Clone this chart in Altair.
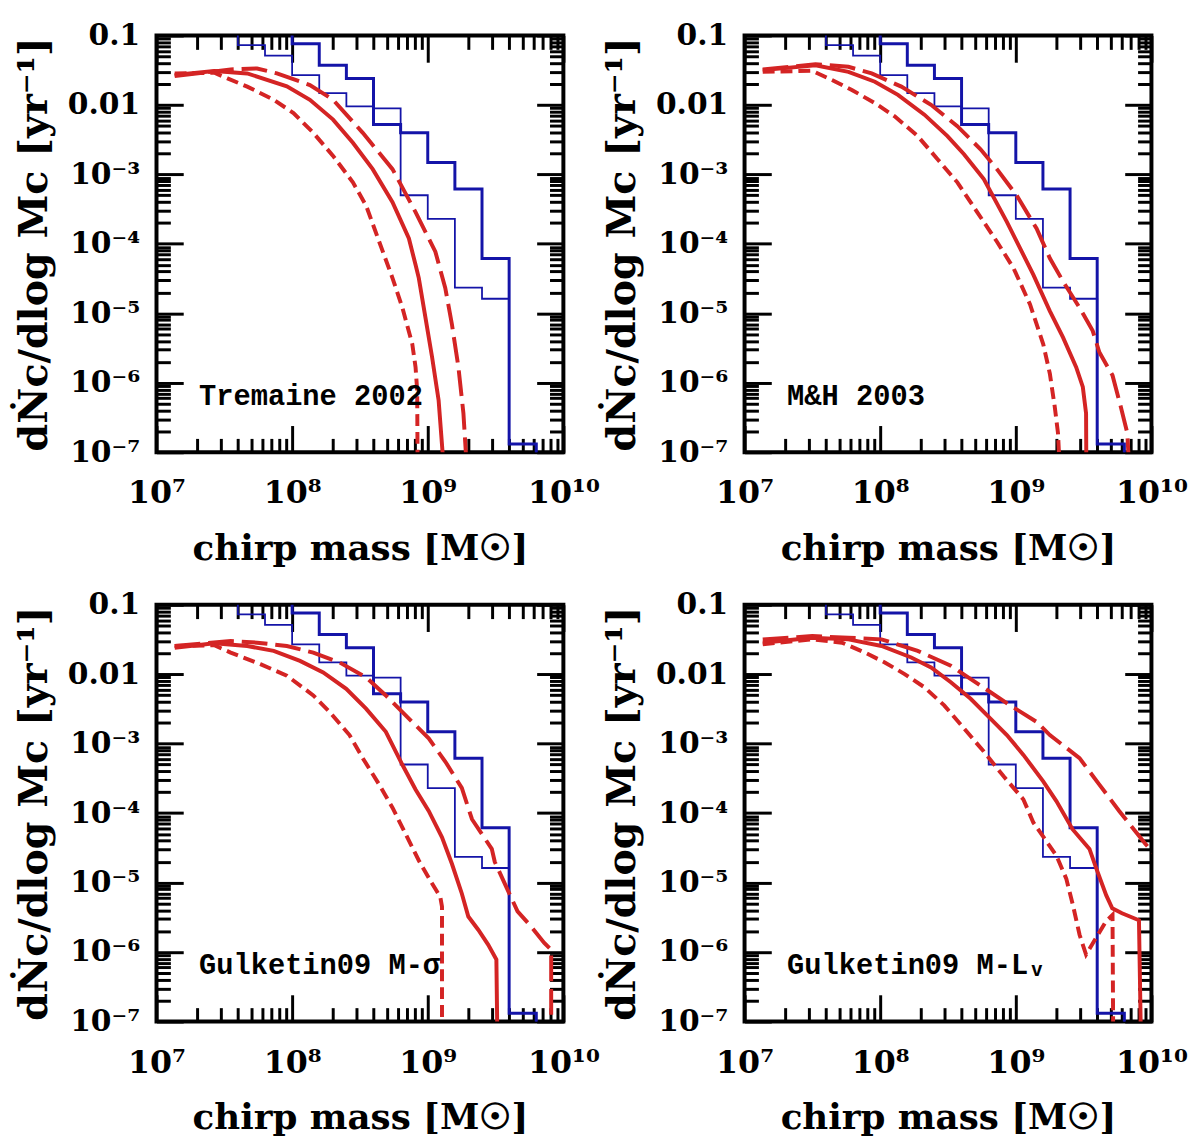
import altair as alt
import pandas as pd

# ---------------- data (log10 values) ----------------
# shared observational histograms (left bin edges, log10 chirp mass)
HIST_LOGM = [7.4, 7.6, 7.8, 8.0, 8.2, 8.4, 8.6, 8.8, 9.0, 9.2, 9.4, 9.6, 9.8]
HIST_OUTER_LOGN = [-0.5, -0.5, -0.5, -1.12, -1.43, -1.62, -2.28, -2.40, -2.83, -3.21, -4.21, -6.88, -7.5]
HIST_INNER_LOGN = [-0.5, -1.14, -1.29, -1.57, -1.83, -2.02, -2.05, -3.30, -3.64, -4.63, -4.79, -6.88, -7.5]

# Tremaine 2002
T02_SOLID_X = [7.134, 7.426, 7.669, 7.961, 8.131, 8.302, 8.448, 8.594, 8.740, 8.861, 8.910, 8.934, 8.983, 9.032, 9.080, 9.117]
T02_SOLID_Y = [-1.570, -1.510, -1.546, -1.731, -1.926, -2.211, -2.544, -2.924, -3.399, -3.922, -4.302, -4.492, -5.062, -5.632, -6.249, -7.2]
T02_SHORT_X = [7.134, 7.426, 7.523, 7.669, 7.864, 8.010, 8.156, 8.302, 8.448, 8.545, 8.642, 8.740, 8.813, 8.886, 8.910, 8.922, 8.925]
T02_SHORT_Y = [-1.546, -1.537, -1.618, -1.736, -1.926, -2.116, -2.401, -2.734, -3.114, -3.447, -3.969, -4.492, -4.919, -5.442, -5.774, -6.107, -7.2]
T02_LONG_X = [7.134, 7.547, 7.742, 7.888, 8.131, 8.302, 8.521, 8.740, 8.910, 9.056, 9.129, 9.178, 9.226, 9.263, 9.287]
T02_LONG_Y = [-1.584, -1.489, -1.475, -1.546, -1.713, -1.926, -2.401, -2.924, -3.542, -4.112, -4.634, -5.157, -5.774, -6.439, -7.2]

# M&H 2003
MH03_SOLID_X = [7.134, 7.523, 7.766, 7.961, 8.131, 8.326, 8.496, 8.618, 8.764, 8.934, 9.056, 9.129, 9.251, 9.348, 9.445, 9.494, 9.518, 9.520]
MH03_SOLID_Y = [-1.499, -1.428, -1.523, -1.665, -1.855, -2.140, -2.449, -2.710, -3.067, -3.684, -4.159, -4.444, -4.967, -5.347, -5.774, -6.060, -6.439, -7.2]
MH03_SHORT_X = [7.134, 7.499, 7.645, 7.791, 7.961, 8.107, 8.277, 8.423, 8.569, 8.715, 8.861, 8.983, 9.105, 9.202, 9.251, 9.287, 9.311, 9.323]
MH03_SHORT_Y = [-1.523, -1.508, -1.641, -1.784, -1.974, -2.164, -2.449, -2.781, -3.114, -3.542, -3.969, -4.349, -4.872, -5.442, -5.869, -6.344, -6.724, -7.2]
MH03_LONG_X = [7.134, 7.523, 7.766, 7.937, 8.156, 8.375, 8.569, 8.740, 8.861, 9.007, 9.153, 9.251, 9.348, 9.470, 9.567, 9.616, 9.713, 9.774, 9.822, 9.835]
MH03_LONG_Y = [-1.489, -1.413, -1.451, -1.546, -1.736, -1.998, -2.306, -2.639, -2.924, -3.304, -3.779, -4.207, -4.539, -4.919, -5.252, -5.561, -5.893, -6.344, -6.724, -7.2]

# Gulketin09 M-sigma
GS_SOLID_X = [7.134, 7.426, 7.669, 7.864, 8.058, 8.229, 8.399, 8.545, 8.691, 8.813, 8.910, 9.007, 9.105, 9.178, 9.251, 9.299, 9.372, 9.445, 9.506, 9.513]
GS_SOLID_Y = [-1.618, -1.556, -1.594, -1.665, -1.808, -1.974, -2.211, -2.496, -2.829, -3.304, -3.660, -3.969, -4.349, -4.729, -5.157, -5.489, -5.679, -5.893, -6.107, -7.2]
GS_SHORT_X = [7.134, 7.426, 7.547, 7.766, 7.961, 8.156, 8.277, 8.423, 8.521, 8.642, 8.740, 8.837, 8.934, 9.032, 9.092, 9.105, 9.105]
GS_SHORT_Y = [-1.594, -1.584, -1.689, -1.855, -2.021, -2.306, -2.544, -2.876, -3.209, -3.589, -3.922, -4.302, -4.682, -5.014, -5.204, -5.347, -7.2]
GS_LONG_X = [7.134, 7.547, 7.742, 7.961, 8.156, 8.350, 8.545, 8.691, 8.861, 9.007, 9.129, 9.251, 9.326, 9.472, 9.494, 9.618, 9.662, 9.762, 9.859, 9.910, 9.910]
GS_LONG_Y = [-1.594, -1.523, -1.546, -1.594, -1.689, -1.831, -2.045, -2.306, -2.639, -2.924, -3.257, -3.637, -4.088, -4.515, -4.701, -5.228, -5.413, -5.632, -5.869, -5.969, -7.2]

# Gulketin09 M-Lv
GL_SOLID_X = [7.134, 7.499, 7.766, 8.010, 8.229, 8.375, 8.521, 8.667, 8.813, 8.934, 9.056, 9.202, 9.299, 9.418, 9.543, 9.594, 9.667, 9.711, 9.783, 9.908, 9.922]
GL_SOLID_Y = [-1.546, -1.475, -1.499, -1.594, -1.760, -1.903, -2.116, -2.354, -2.639, -2.876, -3.162, -3.542, -3.827, -4.231, -4.515, -4.800, -5.185, -5.371, -5.442, -5.542, -7.2]
GL_SHORT_X = [7.134, 7.499, 7.718, 7.888, 8.034, 8.180, 8.326, 8.472, 8.618, 8.764, 8.910, 9.056, 9.129, 9.299, 9.372, 9.421, 9.470, 9.518, 9.591, 9.664, 9.713, 9.718]
GL_SHORT_Y = [-1.570, -1.499, -1.546, -1.689, -1.831, -1.998, -2.188, -2.449, -2.781, -3.114, -3.470, -3.803, -4.135, -4.610, -4.943, -5.323, -5.751, -6.036, -5.798, -5.561, -5.466, -7.2]
GL_LONG_X = [7.134, 7.499, 7.766, 8.010, 8.277, 8.521, 8.740, 8.959, 9.153, 9.251, 9.470, 9.616, 9.762, 9.956, 10.05]
GL_LONG_Y = [-1.499, -1.451, -1.475, -1.499, -1.665, -1.879, -2.164, -2.449, -2.686, -2.876, -3.209, -3.589, -3.969, -4.444, -4.65]

PANEL_LABELS = ["Tremaine 2002", "M&H 2003", "Gulketin09 M-σ", "Gulketin09 M-Lᵥ"]

X_MAJOR = [1e7, 1e8, 1e9, 1e10]
Y_MAJOR = [1e-7, 1e-6, 1e-5, 1e-4, 1e-3, 1e-2, 1e-1]
X_TICKS = [k * 10.0 ** d for d in (7, 8, 9) for k in range(1, 10)] + [1e10]
Y_TICKS = [k * 10.0 ** d for d in range(-7, -1) for k in range(1, 10)] + [0.1]

# ---------------- styling ----------------
W, H = 411, 421
RED = "#d42424"
BLUE = "#1414a8"
SERIF = "DejaVu Serif"

XS = alt.Scale(type="log", domain=[1e7, 1e10], nice=False)
YS = alt.Scale(type="log", domain=[1e-7, 0.1], nice=False)

X_EXPR = ("datum.value < 3e7 ? '10⁷' : datum.value < 3e8 ? '10⁸' : "
          "datum.value < 3e9 ? '10⁹' : '10¹⁰'")
Y_EXPR = ("datum.value > 0.05 ? '0.1' : datum.value > 0.005 ? '0.01' : "
          "datum.value > 5e-4 ? '10⁻³' : datum.value > 5e-5 ? '10⁻⁴' : "
          "datum.value > 5e-6 ? '10⁻⁵' : datum.value > 5e-7 ? '10⁻⁶' : '10⁻⁷'")
MAJOR_TEST = "abs(log(datum.value)/LN10 - round(log(datum.value)/LN10)) < 0.01"
TICK_SIZE = {"condition": {"test": MAJOR_TEST, "value": 27}, "value": 14}

X_LABEL_AXIS = alt.Axis(orient="bottom", values=X_MAJOR, labelExpr=X_EXPR, ticks=False, domain=False,
                        grid=False, labelFlush=False, labelOverlap=False, labelFont=SERIF,
                        labelFontSize=32, labelFontWeight="bold", labelColor="black", labelPadding=26,
                        title="chirp mass [M☉]", titleFont=SERIF, titleFontSize=36,
                        titleFontWeight="bold", titleColor="black", titlePadding=23)
Y_LABEL_AXIS = alt.Axis(orient="left", values=Y_MAJOR, labelExpr=Y_EXPR, ticks=False, domain=False,
                        grid=False, labelFlush=False, labelOverlap=False, labelFont=SERIF,
                        labelFontSize=30, labelFontWeight="bold", labelColor="black", labelPadding=17,
                        labelBaseline="middle",
                        title="dṄc/dlog Mc [yr⁻¹]", titleFont=SERIF, titleFontSize=40,
                        titleFontWeight="bold", titleColor="black", titlePadding=13)


def tick_axis(orient, offset, values):
    return alt.Axis(orient=orient, offset=offset, values=values, labels=False, domain=False,
                    grid=False, title=None, ticks=True, tickColor="black", tickWidth=3,
                    tickSize=TICK_SIZE)


def curve_df(xs, ys):
    return pd.DataFrame({"m": [10.0 ** v for v in xs], "n": [10.0 ** v for v in ys],
                         "i": list(range(len(xs)))})


HIST_OUTER_DF = curve_df(HIST_LOGM, HIST_OUTER_LOGN)
HIST_INNER_DF = curve_df(HIST_LOGM, HIST_INNER_LOGN)


def panel(solid, short, long_, label):
    outer = alt.Chart(HIST_OUTER_DF).mark_line(
        interpolate="step-after", color=BLUE, strokeWidth=3, clip=True
    ).encode(
        x=alt.X("m:Q", scale=XS, axis=X_LABEL_AXIS),
        y=alt.Y("n:Q", scale=YS, axis=Y_LABEL_AXIS),
        order="i:Q",
    )
    inner = alt.Chart(HIST_INNER_DF).mark_line(
        interpolate="step-after", color=BLUE, strokeWidth=1.8, clip=True
    ).encode(
        x=alt.X("m:Q", scale=XS, axis=tick_axis("top", -H, X_TICKS)),
        y=alt.Y("n:Q", scale=YS, axis=tick_axis("right", -W, Y_TICKS)),
        order="i:Q",
    )
    sh = alt.Chart(curve_df(*short)).mark_line(
        color=RED, strokeWidth=4, strokeDash=[12, 6], clip=True
    ).encode(
        x=alt.X("m:Q", scale=XS, axis=tick_axis("bottom", -H, X_TICKS)),
        y=alt.Y("n:Q", scale=YS, axis=tick_axis("left", -W, Y_TICKS)),
        order="i:Q",
    )
    so = alt.Chart(curve_df(*solid)).mark_line(
        color=RED, strokeWidth=4, clip=True
    ).encode(
        x=alt.X("m:Q", scale=XS, axis=None),
        y=alt.Y("n:Q", scale=YS, axis=None),
        order="i:Q",
    )
    lo = alt.Chart(curve_df(*long_)).mark_line(
        color=RED, strokeWidth=4, strokeDash=[26, 8], clip=True
    ).encode(
        x=alt.X("m:Q", scale=XS, axis=None),
        y=alt.Y("n:Q", scale=YS, axis=None),
        order="i:Q",
    )
    txt = alt.Chart(pd.DataFrame({"t": [label]})).mark_text(
        align="left", baseline="middle", font="Liberation Mono", fontWeight="bold",
        fontSize=29, color="black"
    ).encode(text="t:N", x=alt.value(43), y=alt.value(364))
    return alt.layer(outer, inner, sh, so, lo, txt).resolve_axis(
        x="independent", y="independent"
    ).properties(width=W, height=H)


p1 = panel((T02_SOLID_X, T02_SOLID_Y), (T02_SHORT_X, T02_SHORT_Y), (T02_LONG_X, T02_LONG_Y), PANEL_LABELS[0])
p2 = panel((MH03_SOLID_X, MH03_SOLID_Y), (MH03_SHORT_X, MH03_SHORT_Y), (MH03_LONG_X, MH03_LONG_Y), PANEL_LABELS[1])
p3 = panel((GS_SOLID_X, GS_SOLID_Y), (GS_SHORT_X, GS_SHORT_Y), (GS_LONG_X, GS_LONG_Y), PANEL_LABELS[2])
p4 = panel((GL_SOLID_X, GL_SOLID_Y), (GL_SHORT_X, GL_SHORT_Y), (GL_LONG_X, GL_LONG_Y), PANEL_LABELS[3])

chart = alt.concat(
    p1, p2, p3, p4, columns=2, spacing={"row": 154, "column": 183}, bounds="flush"
).properties(
    padding={"left": 4, "top": 5, "right": 5, "bottom": 5}, background="white"
).configure_view(stroke="black", strokeWidth=4)

chart.save("out.html", embed_options={"renderer": "svg", "actions": False})
